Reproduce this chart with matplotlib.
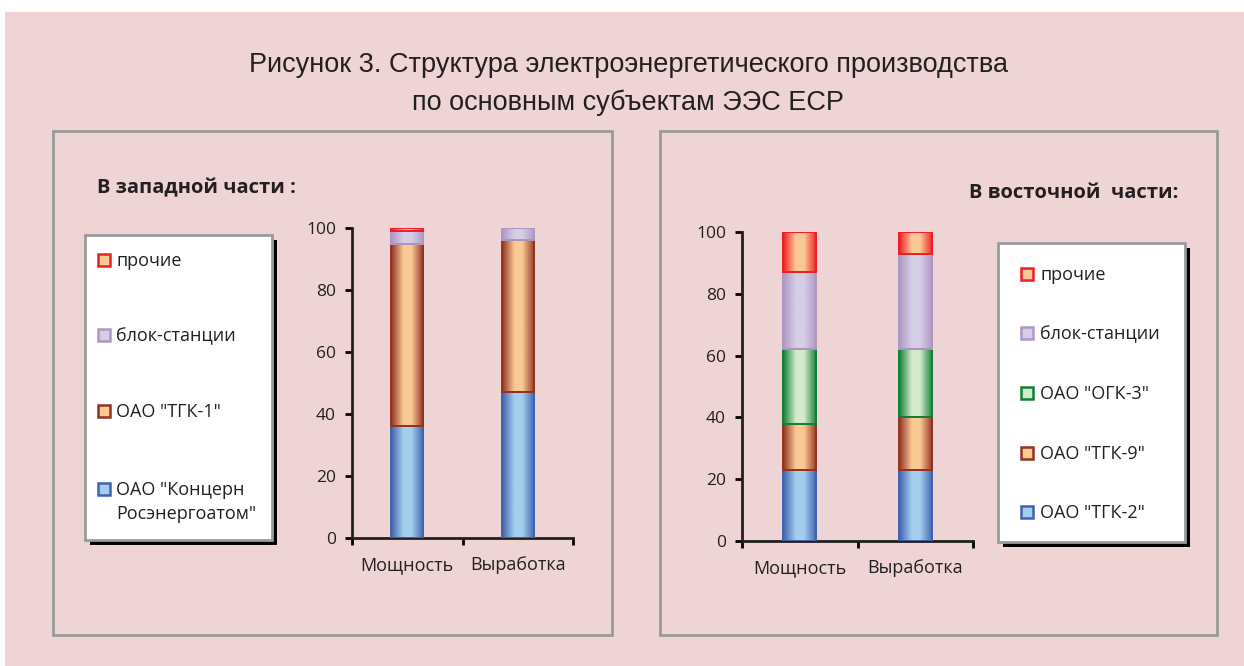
import numpy as np
import matplotlib.pyplot as plt
from matplotlib.colors import LinearSegmentedColormap
from matplotlib.patches import Rectangle

# Data (percent shares)
categories = ["Мощность", "Выработка"]

west_labels = ['ОАО "Концерн\nРосэнергоатом"', 'ОАО "ТГК-1"', "блок-станции", "прочие"]
west_rosenergoatom = [36, 47]
west_tgk1 = [59, 49]
west_block = [4, 4]
west_other = [1, 0]

east_labels = ['ОАО "ТГК-2"', 'ОАО "ТГК-9"', 'ОАО "ОГК-3"', "блок-станции", "прочие"]
east_tgk2 = [23, 23]
east_tgk9 = [15, 17]
east_ogk3 = [24, 22]
east_block = [25, 31]
east_other = [13, 7]

# (edge colour, light centre colour)
BLUE = ("#3F62AE", "#A4CEEE")
BROWN = ("#923320", "#FAC995")
PURPLE = ("#B096C4", "#D5CEE6")
GREEN = ("#127F36", "#D3EBCB")
RED = ("#EE1D25", "#FAC995")

west_colors = [BLUE, BROWN, PURPLE, RED]
east_colors = [BLUE, BROWN, GREEN, PURPLE, RED]

PINK = "#EFD4D5"
TXT = "#231F20"
W, H = 1244, 666

plt.rcParams["font.family"] = ["Open Sans", "DejaVu Sans"]


def fx(px):
    return px / W


def fy(py):
    return 1 - py / H


def grad_bar(ax, x, bottom, height, width, colors):
    if height <= 0:
        return
    edge, light = colors
    rect = ax.bar(x, height, width, bottom=bottom, facecolor="none",
                  edgecolor=edge, linewidth=1.4, zorder=3)[0]
    cmap = LinearSegmentedColormap.from_list(
        "g", [(0, edge), (0.38, light), (0.62, light), (1, edge)])
    grad = np.linspace(0, 1, 200).reshape(1, -1)
    im = ax.imshow(grad, cmap=cmap, aspect="auto", zorder=2,
                   extent=[x - width / 2, x + width / 2, bottom, bottom + height])
    im.set_clip_path(rect)


def stacked(ax, series, colors):
    x = np.arange(len(categories))
    bottom = np.zeros(len(categories))
    for vals, col in zip(series, colors):
        for i in range(len(categories)):
            grad_bar(ax, x[i], bottom[i], vals[i], 0.29, col)
        bottom += np.array(vals)
    ax.set_xlim(-0.5, 1.5)
    ax.set_ylim(0, 100)
    ax.set_yticks(range(0, 101, 20))
    ax.set_xticks(x)
    ax.set_xticklabels(categories, fontsize=13, color=TXT)
    ax.set_xticks([-0.5, 0.5, 1.5], minor=True)
    ax.tick_params(axis="x", which="major", length=0, pad=13)
    ax.tick_params(axis="x", which="minor", length=5, width=2, direction="out")
    ax.tick_params(axis="y", length=5, width=2, labelsize=12.5, pad=6.5, labelcolor=TXT)
    for s in ["top", "right"]:
        ax.spines[s].set_visible(False)
    for s in ["left", "bottom"]:
        ax.spines[s].set_linewidth(2)
        ax.spines[s].set_color(TXT)
    ax.set_facecolor("none")


def legend_box(fig, x0, y0, x1, y1, labels, colors, ys, sw_x, tx):
    # shadow and white box
    fig.add_artist(Rectangle((fx(x0 + 5), fy(y1 + 5)), fx(x1) - fx(x0), fy(y0) - fy(y1),
                             transform=fig.transFigure, facecolor="black", edgecolor="none", zorder=1))
    fig.add_artist(Rectangle((fx(x0), fy(y1)), fx(x1) - fx(x0), fy(y0) - fy(y1),
                             transform=fig.transFigure, facecolor="white",
                             edgecolor="#9A9A9A", linewidth=2, zorder=2))
    for lab, col, yy in zip(labels, colors, ys):
        fig.add_artist(Rectangle((fx(sw_x), fy(yy + 6)), fx(12), 12 / H,
                                 transform=fig.transFigure, facecolor=col[1],
                                 edgecolor=col[0], linewidth=1.8, zorder=3))
        fig.text(fx(tx), fy(yy - 8), lab, ha="left", va="top", fontsize=13,
                 color=TXT, zorder=4, linespacing=1.45)


fig = plt.figure(figsize=(W / 100, H / 100), dpi=100, facecolor="white")
fig.add_artist(Rectangle((fx(5), 0), 1 - fx(5), fy(12), transform=fig.transFigure,
                         facecolor=PINK, edgecolor="none", zorder=0))

# panel frames
for x0, x1 in [(53, 612), (660, 1217)]:
    fig.add_artist(Rectangle((fx(x0), fy(635)), fx(x1) - fx(x0), fy(131) - fy(635),
                             transform=fig.transFigure, facecolor="none",
                             edgecolor="#999999", linewidth=2, zorder=1))

fig.text(0.505, fy(65), "Рисунок 3. Структура электроэнергетического производства",
         ha="center", va="center", fontsize=19.5, family="Liberation Sans", color=TXT)
fig.text(0.505, fy(103), "по основным субъектам ЭЭС ЕСР",
         ha="center", va="center", fontsize=19.5, family="Liberation Sans", color=TXT)

fig.text(fx(97), fy(188), "В западной части :", ha="left", va="center",
         fontsize=14.5, fontweight="bold", color=TXT)
fig.text(fx(1178), fy(193), "В восточной  части:", ha="right", va="center",
         fontsize=14.5, fontweight="bold", color=TXT)

ax1 = fig.add_axes([fx(352), fy(538), fx(573) - fx(352), fy(228) - fy(538)])
stacked(ax1, [west_rosenergoatom, west_tgk1, west_block, west_other], west_colors)

ax2 = fig.add_axes([fx(742), fy(541), fx(973) - fx(742), fy(232) - fy(541)])
stacked(ax2, [east_tgk2, east_tgk9, east_ogk3, east_block, east_other], east_colors)

legend_box(fig, 85, 235, 272, 540, west_labels[::-1], west_colors[::-1],
           [260, 335, 411, 489], 98, 116)
legend_box(fig, 998, 243, 1185, 542, east_labels[::-1], east_colors[::-1],
           [274, 333, 393, 453, 512], 1021, 1040)

fig.savefig("out.png", dpi=100, facecolor="white")
